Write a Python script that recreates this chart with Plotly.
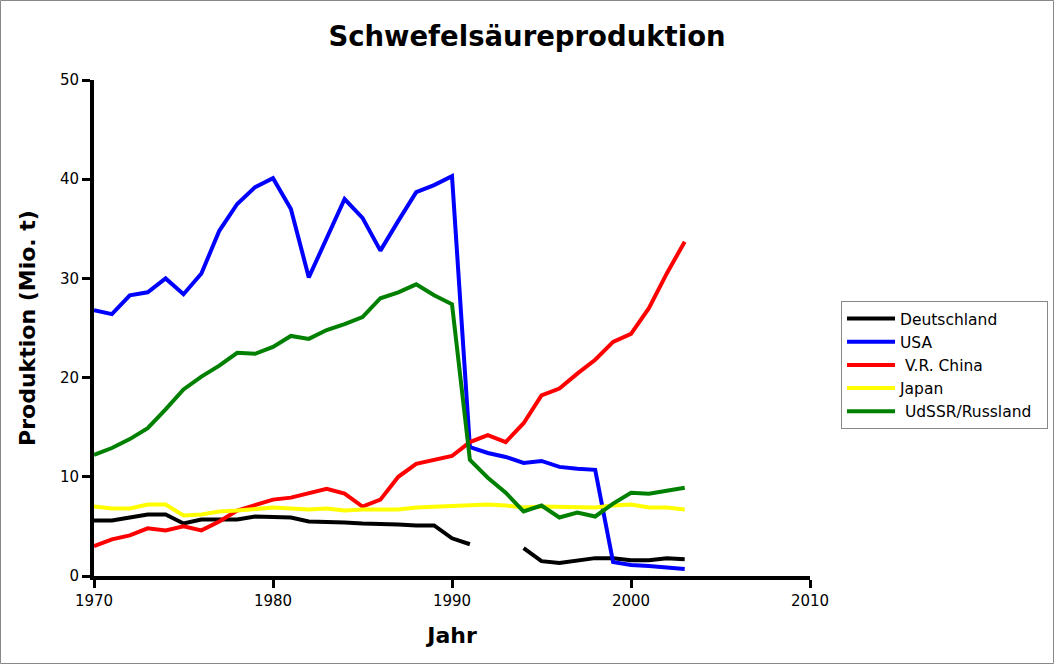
import plotly.graph_objects as go

years = list(range(1970, 2004))

deutschland = [5.6, 5.6, 5.9, 6.2, 6.2, 5.3, 5.7, 5.7, 5.7, 6.0, 5.9, 5.9, 5.5, 5.5, 5.4, 5.3, 5.2, 5.2, 5.1, 5.1,
               3.8, 3.2, None, None, 2.8, 1.5, 1.3, 1.5, 1.8, 1.8, 1.6, 1.6, 1.8, 1.7]
usa = [26.8, 26.4, 28.3, 28.6, 30.0, 28.4, 30.5, 34.8, 37.5, 39.2, 40.1, 37.0, 30.1, 34.1, 38.0, 36.1, 32.8, 35.8, 38.7, 39.4,
       40.3, 13.0, 12.4, 12.0, 11.4, 11.6, 11.0, 10.8, 10.7, 1.4, 1.1, 1.0, 0.8, 0.7]
china = [3.0, 3.7, 4.1, 4.8, 4.6, 5.0, 4.6, 5.5, 6.6, 7.1, 7.7, 7.9, 8.3, 8.8, 8.3, 7.0, 7.7, 10.0, 11.3, 11.7,
         12.1, 13.5, 14.2, 13.5, 15.4, 18.2, 18.9, 20.4, 21.8, 23.6, 24.4, 27.0, 30.5, 33.7]
japan = [7.0, 6.8, 6.8, 7.2, 7.2, 6.1, 6.2, 6.5, 6.6, 6.8, 6.9, 6.8, 6.7, 6.8, 6.6, 6.7, 6.7, 6.7, 6.9, 7.0,
         7.0, 7.2, 7.2, 7.1, 6.9, 7.0, 7.0, 6.9, 6.9, 7.1, 7.2, 6.9, 6.9, 6.7]
russland = [12.2, 12.9, 13.8, 14.9, 16.8, 18.8, 20.1, 21.2, 22.5, 22.4, 23.1, 24.2, 23.9, 24.8, 25.4, 26.1, 28.0, 28.6, 29.4, 28.3,
            27.4, 11.7, 9.9, 8.4, 6.5, 7.1, 5.9, 6.4, 6.0, 7.3, 8.4, 8.3, 8.6, 8.9]

series = [
    ("Deutschland", deutschland, "#000000"),
    ("USA", usa, "#0000ff"),
    ("\u00a0V.R. China", china, "#ff0000"),
    ("Japan", japan, "#ffff00"),
    ("\u00a0UdSSR/Russland\u00a0\u00a0", russland, "#008000"),
]

fig = go.Figure()
for name, vals, col in series:
    fig.add_trace(go.Scatter(x=years, y=vals, name=name, mode="lines",
                             line=dict(color=col, width=4), connectgaps=False))

W, H = 1054, 664
L, R, T, B = 94, 244, 80, 88
pw, ph = W - L - R, H - T - B

fig.update_layout(
    width=W, height=H,
    margin=dict(l=L, r=R, t=T, b=B, autoexpand=False),
    paper_bgcolor="white", plot_bgcolor="white",
    font=dict(family="DejaVu Sans", size=15, color="black"),
    title=dict(text="<b>Schwefelsäureproduktion</b>", x=0.5, xanchor="center",
               y=1 - 36 / H, yanchor="middle", yref="container",
               font=dict(size=27.5, family="DejaVu Sans", color="black")),
    xaxis=dict(range=[1970, 2010], tickvals=[1970, 1980, 1990, 2000, 2010],
               showgrid=False, zeroline=False, showline=True, linecolor="black", linewidth=4,
               ticks="outside", ticklen=8, tickwidth=3, tickcolor="black",
               tickfont=dict(size=15), automargin=False,
               title=dict(text="<b>Jahr</b>", font=dict(size=22), standoff=20)),
    yaxis=dict(range=[0, 50], tickvals=[0, 10, 20, 30, 40, 50],
               showgrid=False, zeroline=False, showline=True, linecolor="black", linewidth=4,
               ticks="outside", ticklen=8, tickwidth=3, tickcolor="black",
               tickfont=dict(size=15), automargin=False,
               title=dict(text="<b>Produktion (Mio. t)</b>", font=dict(size=22), standoff=19)),
    legend=dict(x=(841 - L) / pw, y=(576 - 301) / ph, xanchor="left", yanchor="top",
                bordercolor="#888888", borderwidth=1, bgcolor="white",
                font=dict(size=15.5), tracegroupgap=0, itemwidth=48),
    showlegend=True,
    shapes=[dict(type="rect", xref="paper", yref="paper",
                 x0=-(L - 0.5) / pw, x1=(W - 0.5 - L) / pw,
                 y0=-(H - 0.5 - (H - B)) / ph, y1=(H - B - 0.5) / ph,
                 line=dict(color="#888888", width=1), fillcolor="rgba(0,0,0,0)", layer="below")],
)

fig.write_html("out.html", config={"displayModeBar": False},
               post_script="document.body.style.margin='0px';")
